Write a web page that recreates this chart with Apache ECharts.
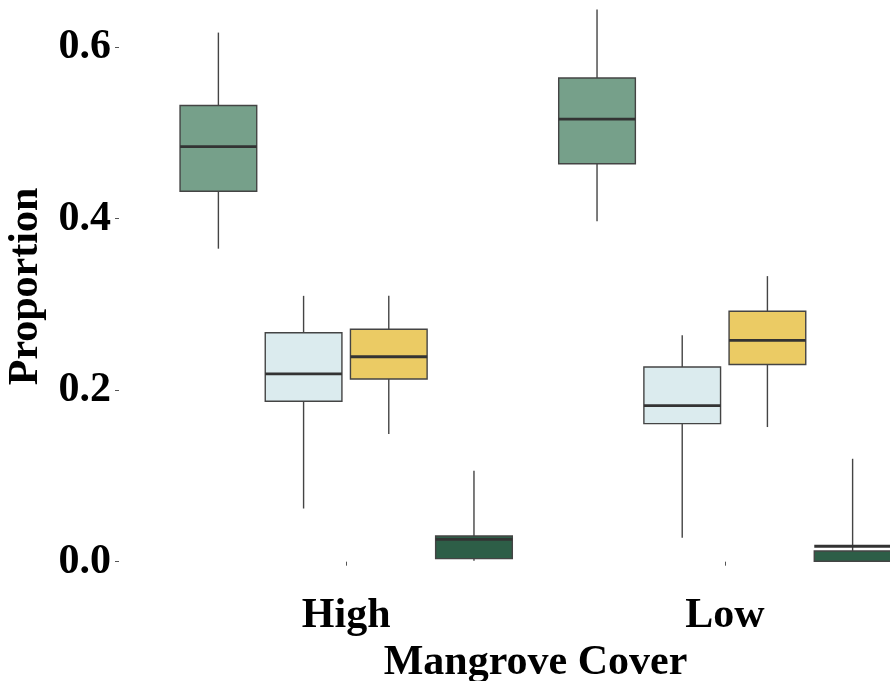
<!DOCTYPE html>
<html>
<head>
<meta charset="utf-8">
<script src="https://cdn.jsdelivr.net/npm/echarts@6/dist/echarts.min.js"></script>
<style>
html,body{margin:0;padding:0;background:#fff;}
#chart{width:890px;height:681px;}
</style>
</head>
<body>
<div id="chart"></div>
<script>
// Categories on the x axis
const categories = ['High', 'Low'];
// Y tick labels
const yTicks = [0, 0.2, 0.4, 0.6];
// Box stats per series: [min, Q1, median, Q3, max] for High, Low
const seriesGreen     = [[0.365, 0.432, 0.484, 0.532, 0.617], [0.397, 0.464, 0.516, 0.564, 0.644]];
const seriesLightBlue = [[0.062, 0.187, 0.219, 0.267, 0.310], [0.028, 0.161, 0.182, 0.227, 0.264]];
const seriesYellow    = [[0.149, 0.213, 0.239, 0.271, 0.310], [0.157, 0.230, 0.258, 0.292, 0.333]];
const seriesDarkGreen = [[0.001, 0.0035, 0.026, 0.030, 0.106], [0.000, 0.0005, 0.018, 0.0125, 0.120]];
const seriesNames = ['Class 1', 'Class 2', 'Class 3', 'Class 4'];
const seriesColors = ['#76A08A', '#DBEBEE', '#EBCB64', '#2D5E47'];
const allSeries = [seriesGreen, seriesLightBlue, seriesYellow, seriesDarkGreen];

const DODGE = 0.225;
const BOXW = 0.2025;
const FONT = '"Liberation Serif", "Times New Roman", serif';

function makeRender(si, color) {
  return function (params, api) {
    const xc = api.value(0) + (si - 1.5) * DODGE;
    const vMin = api.value(1), q1 = api.value(2), med = api.value(3), q3 = api.value(4), vMax = api.value(5);
    const xl = api.coord([xc - BOXW / 2, 0])[0];
    const xr = api.coord([xc + BOXW / 2, 0])[0];
    const xm = api.coord([xc, 0])[0];
    const yMin = api.coord([xc, vMin])[1];
    const yQ1 = api.coord([xc, q1])[1];
    const yMed = api.coord([xc, med])[1];
    const yQ3 = api.coord([xc, q3])[1];
    const yMax = api.coord([xc, vMax])[1];
    const whisker = {stroke: '#444444', lineWidth: 1.4};
    return {
      type: 'group',
      children: [
        {type: 'line', shape: {x1: xm, y1: yQ3, x2: xm, y2: yMax}, style: whisker},
        {type: 'line', shape: {x1: xm, y1: yQ1, x2: xm, y2: yMin}, style: whisker},
        {type: 'rect', shape: {x: xl, y: Math.min(yQ1, yQ3), width: xr - xl, height: Math.abs(yQ1 - yQ3)},
          style: {fill: color, stroke: '#444444', lineWidth: 1.4}},
        {type: 'line', shape: {x1: xl, y1: yMed, x2: xr, y2: yMed}, style: {stroke: '#333333', lineWidth: 2.8}}
      ]
    };
  };
}

const chart = echarts.init(document.getElementById('chart'), null, {renderer: 'canvas'});
const series = allSeries.map((arr, si) => ({
  name: seriesNames[si],
  type: 'custom',
  clip: false,
  renderItem: makeRender(si, seriesColors[si]),
  encode: {x: 0, y: [1, 2, 3, 4, 5]},
  data: arr.map((d, ci) => [ci + 1].concat(d))
}));

chart.setOption({
  backgroundColor: '#ffffff',
  animation: false,
  grid: {left: 119, top: -18, width: 833, height: 609, containLabel: false, outerBoundsMode: 'none'},
  xAxis: {
    type: 'value',
    min: 0.4,
    max: 2.6,
    name: 'Mangrove Cover',
    nameLocation: 'middle',
    nameGap: 40,
    nameTextStyle: {fontFamily: FONT, fontWeight: 'bold', fontSize: 42, color: '#000'},
    axisLine: {show: false},
    splitLine: {show: false},
    axisTick: {show: true, length: 4, lineStyle: {color: '#555', width: 1}, customValues: [1, 2]},
    axisLabel: {
      customValues: [1, 2],
      formatter: v => categories[Math.round(v) - 1],
      fontFamily: FONT, fontWeight: 'bold', fontSize: 42, color: '#000', margin: 4
    }
  },
  yAxis: {
    type: 'value',
    min: -0.0342,
    max: 0.676,
    name: 'Proportion',
    nameLocation: 'middle',
    nameRotate: 90,
    nameGap: 63,
    nameTextStyle: {fontFamily: FONT, fontWeight: 'bold', fontSize: 42, color: '#000'},
    axisLine: {show: false},
    splitLine: {show: false},
    axisTick: {show: true, length: 4, lineStyle: {color: '#555', width: 1}, customValues: yTicks},
    axisLabel: {
      customValues: yTicks,
      formatter: v => v.toFixed(1),
      fontFamily: FONT, fontWeight: 'bold', fontSize: 42, color: '#000', margin: 8
    }
  },
  series: series
});
</script>
</body>
</html>
